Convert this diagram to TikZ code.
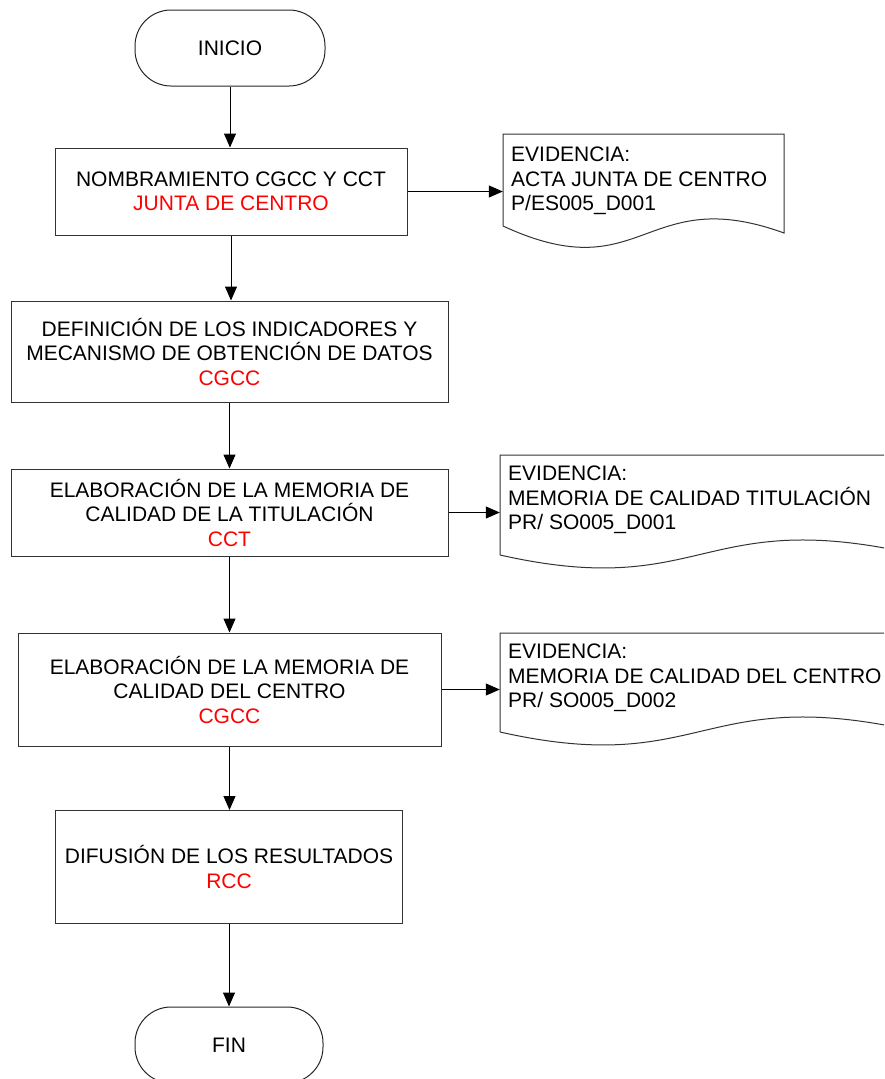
\documentclass[tikz,border=0pt]{standalone}
\usepackage{fontspec}
\setmainfont{Liberation Sans}
\usetikzlibrary{arrows.meta}
\begin{document}
\begin{tikzpicture}[x=1pt,y=-1pt,
  every node/.style={font=\fontsize{21pt}{24.5pt}\selectfont},
  procbox/.style={draw=black!80, line width=1pt, align=center, inner sep=0pt},
  term/.style={draw=black!85, line width=1pt, rounded corners=36pt, inner sep=0pt},
  docnode/.style={inner sep=0pt},
  doctext/.style={anchor=north west, align=left, inner sep=0pt},
  docline/.style={draw=black!80, line width=1pt},
  arr/.style={draw=black, line width=1pt, -{Triangle[length=14pt,width=12pt]}}]
\useasboundingbox (0,0) rectangle (884,1079);
\clip (0,0) rectangle (884,1079);

% terminators
\node[term, minimum width=190pt, minimum height=76pt] (ini) at (230,48) {INICIO};
\node[term, minimum width=188pt, minimum height=76pt] (fin) at (229,1045) {FIN};

% process boxes
\node[procbox, minimum width=352pt, minimum height=87pt] (b1) at (231,191.5)
  {NOMBRAMIENTO CGCC Y CCT\\\textcolor{red}{JUNTA DE CENTRO}};
\node[procbox, minimum width=437pt, minimum height=101pt] (b2) at (229.5,351.5)
  {DEFINICIÓN DE LOS INDICADORES Y\\MECANISMO DE OBTENCIÓN DE DATOS\\\textcolor{red}{CGCC}};
\node[procbox, minimum width=437pt, minimum height=87pt] (b3) at (229.5,512.5)
  {ELABORACIÓN DE LA MEMORIA DE\\CALIDAD DE LA TITULACIÓN\\\textcolor{red}{CCT}};
\node[procbox, minimum width=423pt, minimum height=113pt] (b4) at (229.5,689.5)
  {ELABORACIÓN DE LA MEMORIA DE\\CALIDAD DEL CENTRO\\\textcolor{red}{CGCC}};
\node[procbox, minimum width=347pt, minimum height=113pt] (b5) at (229,867)
  {DIFUSIÓN DE LOS RESULTADOS\\\textcolor{red}{RCC}};

% documents
\node[docnode, minimum width=281pt, minimum height=92pt] (d1) at (643.5,180) {};
\node[docnode, minimum width=400pt, minimum height=100pt] (d2) at (700,505) {};
\node[docnode, minimum width=400pt, minimum height=99pt] (d3) at (700,682.5) {};
\draw[docline] (503,226) -- (503,134) -- (784,134) -- (784,233)
  .. controls (643.5,182) and (643.5,291) .. (503,226);
\draw[docline] (500,555) -- (500,455) -- (900,455) -- (900,551)
  .. controls (700,510) and (700,600) .. (500,555);
\draw[docline] (500,732) -- (500,633) -- (900,633) -- (900,728)
  .. controls (700,687) and (700,777) .. (500,732);
\node[doctext] (t1) at (511,147) {EVIDENCIA:\\ACTA JUNTA DE CENTRO\\P/ES005\_D001};
\node[doctext] (t2) at (508,466) {EVIDENCIA:\\MEMORIA DE CALIDAD TITULACIÓN\\PR/ SO005\_D001};
\node[doctext] (t3) at (508,644) {EVIDENCIA:\\MEMORIA DE CALIDAD DEL CENTRO\\PR/ SO005\_D002};

% connectors
\draw[arr] (ini.south) -- (ini.south |- b1.north);
\draw[arr] (b1.south) -- (b1.south |- b2.north);
\draw[arr] (b2.south) -- (b2.south |- b3.north);
\draw[arr] (b3.south) -- (b3.south |- b4.north);
\draw[arr] (b4.south) -- (b4.south |- b5.north);
\draw[arr] (b5.south) -- (b5.south |- fin.north);
\draw[arr] (b1.east) -- (b1.east -| d1.west);
\draw[arr] (b3.east) -- (b3.east -| d2.west);
\draw[arr] (b4.east) -- (b4.east -| d3.west);
\end{tikzpicture}
\end{document}
